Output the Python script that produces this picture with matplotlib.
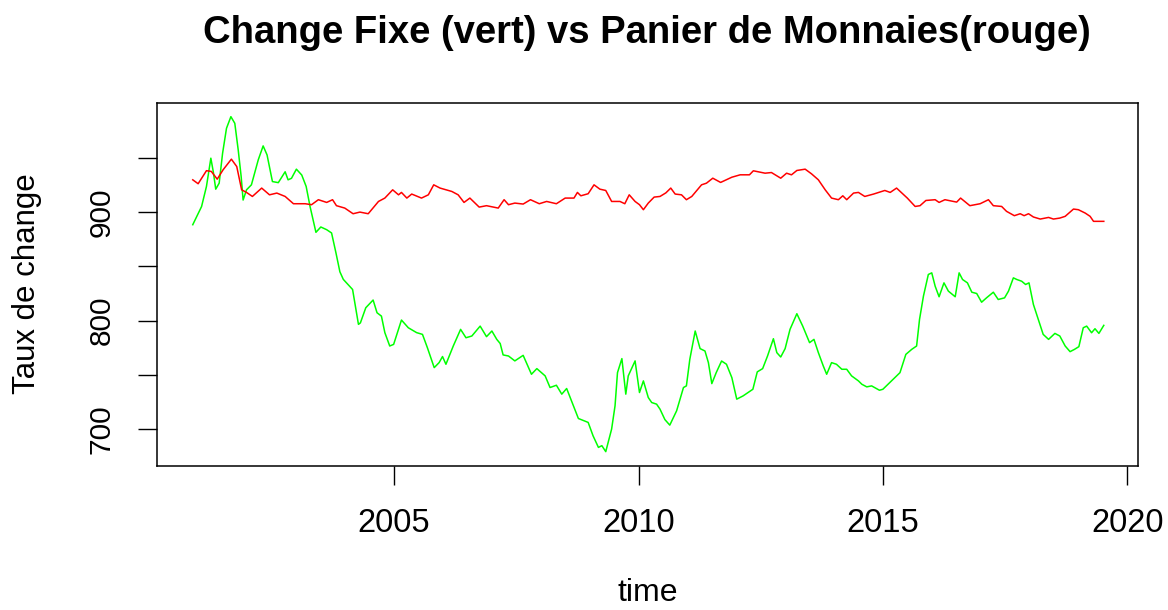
import matplotlib
matplotlib.use('Agg')
import matplotlib.pyplot as plt
from matplotlib import font_manager

# values (time in decimal years)
green_time = [2000.88, 2001.06, 2001.16, 2001.25, 2001.30, 2001.35, 2001.42, 2001.49, 2001.57, 2001.66,
              2001.74, 2001.81, 2001.87, 2001.91, 2001.98, 2002.08, 2002.22, 2002.32, 2002.40, 2002.51,
              2002.63, 2002.77, 2002.83, 2002.90, 2003.00, 2003.11, 2003.20, 2003.28, 2003.40, 2003.50,
              2003.62, 2003.72, 2003.81, 2003.89, 2003.96, 2004.15, 2004.27, 2004.31, 2004.42, 2004.57,
              2004.65, 2004.74, 2004.81, 2004.91, 2004.99, 2005.15, 2005.29, 2005.46, 2005.58, 2005.68,
              2005.82, 2005.92, 2005.99, 2006.06, 2006.21, 2006.36, 2006.47, 2006.59, 2006.76, 2006.89,
              2007.00, 2007.10, 2007.17, 2007.23, 2007.34, 2007.47, 2007.64, 2007.81, 2007.92, 2008.09,
              2008.19, 2008.32, 2008.43, 2008.53, 2008.63, 2008.77, 2008.97, 2009.07, 2009.18, 2009.25,
              2009.33, 2009.45, 2009.52, 2009.57, 2009.66, 2009.74, 2009.79, 2009.93, 2010.02, 2010.10,
              2010.20, 2010.27, 2010.37, 2010.44, 2010.54, 2010.64, 2010.78, 2010.92, 2010.98, 2011.05,
              2011.16, 2011.26, 2011.36, 2011.43, 2011.50, 2011.59, 2011.70, 2011.80, 2011.91, 2012.01,
              2012.14, 2012.34, 2012.43, 2012.54, 2012.64, 2012.76, 2012.83, 2012.91, 2013.00, 2013.10,
              2013.24, 2013.36, 2013.50, 2013.59, 2013.68, 2013.78, 2013.85, 2013.95, 2014.05, 2014.16,
              2014.26, 2014.36, 2014.50, 2014.57, 2014.67, 2014.77, 2014.93, 2015.00, 2015.35, 2015.47,
              2015.59, 2015.69, 2015.75, 2015.83, 2015.93, 2016.00, 2016.07, 2016.15, 2016.25, 2016.34,
              2016.48, 2016.56, 2016.63, 2016.73, 2016.82, 2016.92, 2017.02, 2017.12, 2017.26, 2017.36,
              2017.49, 2017.57, 2017.67, 2017.74, 2017.84, 2017.92, 2017.99, 2018.08, 2018.18, 2018.28,
              2018.39, 2018.52, 2018.62, 2018.73, 2018.83, 2018.92, 2019.01, 2019.10, 2019.17, 2019.27,
              2019.34, 2019.42, 2019.52]
green_value = [888.3, 905.0, 923.5, 949.5, 937.0, 921.0, 926.5, 954.0, 977.0, 987.7,
               981.6, 957.0, 932.7, 911.0, 920.4, 925.0, 948.0, 960.8, 952.5, 928.0,
               927.0, 937.0, 929.6, 931.0, 939.4, 934.0, 923.5, 905.0, 881.3, 886.2,
               883.7, 880.7, 862.3, 845.0, 838.0, 828.7, 796.6, 798.0, 811.9, 819.0,
               807.3, 804.2, 789.0, 776.7, 778.2, 800.6, 793.5, 789.0, 787.4, 775.2,
               756.8, 761.4, 767.0, 759.9, 776.7, 792.0, 784.3, 785.9, 795.0, 785.3,
               790.5, 782.8, 779.0, 768.5, 767.5, 763.0, 768.1, 750.7, 755.9, 749.2,
               738.5, 740.6, 732.4, 737.6, 726.2, 710.0, 706.4, 694.1, 683.4, 685.0,
               679.5, 700.3, 721.7, 752.2, 765.1, 732.4, 749.2, 763.0, 733.9, 744.6,
               729.3, 724.7, 723.2, 718.6, 709.0, 703.9, 717.1, 738.5, 740.0, 764.5,
               790.5, 774.3, 772.1, 761.4, 742.1, 752.2, 762.9, 759.9, 747.6, 727.8,
               730.8, 736.9, 752.9, 755.9, 767.5, 783.4, 770.6, 766.6, 774.3, 792.0,
               806.4, 795.0, 779.8, 782.8, 770.6, 758.4, 750.7, 761.4, 759.9, 755.3,
               755.3, 749.2, 744.6, 741.5, 739.1, 740.0, 736.0, 736.9, 752.2, 769.0,
               773.6, 776.7, 801.2, 822.6, 842.5, 844.0, 831.7, 822.0, 834.8, 827.2,
               822.0, 844.0, 837.9, 834.8, 826.2, 825.0, 817.0, 821.0, 826.2, 819.5,
               821.0, 827.2, 839.4, 837.9, 836.3, 833.3, 834.8, 814.9, 801.2, 787.4,
               782.8, 788.3, 785.9, 776.7, 771.5, 773.6, 776.1, 793.5, 795.0, 788.9,
               792.6, 788.3, 795.7]

red_time = [2000.88, 2000.99, 2001.16, 2001.26, 2001.38, 2001.50, 2001.67, 2001.78, 2001.88, 2001.98,
            2002.10, 2002.29, 2002.45, 2002.60, 2002.77, 2002.94, 2003.18, 2003.31, 2003.45, 2003.62,
            2003.74, 2003.82, 2003.99, 2004.16, 2004.30, 2004.47, 2004.68, 2004.81, 2004.97, 2005.09,
            2005.15, 2005.26, 2005.36, 2005.56, 2005.70, 2005.81, 2005.94, 2006.18, 2006.31, 2006.43,
            2006.55, 2006.74, 2006.89, 2007.13, 2007.25, 2007.34, 2007.47, 2007.64, 2007.79, 2007.97,
            2008.12, 2008.32, 2008.50, 2008.68, 2008.75, 2008.82, 2008.97, 2009.09, 2009.21, 2009.33,
            2009.45, 2009.62, 2009.72, 2009.81, 2009.93, 2010.02, 2010.10, 2010.20, 2010.32, 2010.44,
            2010.56, 2010.66, 2010.75, 2010.88, 2010.98, 2011.09, 2011.29, 2011.39, 2011.52, 2011.68,
            2011.91, 2012.08, 2012.27, 2012.35, 2012.59, 2012.72, 2012.91, 2013.03, 2013.13, 2013.24,
            2013.41, 2013.54, 2013.68, 2013.82, 2013.95, 2014.09, 2014.18, 2014.26, 2014.40, 2014.50,
            2014.63, 2014.81, 2015.04, 2015.15, 2015.28, 2015.50, 2015.66, 2015.76, 2015.88, 2016.07,
            2016.15, 2016.27, 2016.51, 2016.59, 2016.78, 2016.99, 2017.16, 2017.26, 2017.43, 2017.53,
            2017.69, 2017.81, 2017.89, 2017.98, 2018.08, 2018.22, 2018.39, 2018.49, 2018.62, 2018.73,
            2018.90, 2019.00, 2019.14, 2019.24, 2019.31, 2019.52]
red_value = [929.6, 926.0, 938.0, 937.3, 930.2, 938.8, 948.6, 941.8, 920.4, 918.0,
             914.3, 922.0, 915.8, 917.4, 914.3, 907.6, 907.6, 906.7, 911.3, 908.8,
             911.3, 905.8, 903.6, 898.4, 899.9, 898.4, 909.7, 912.8, 920.4, 915.8,
             918.0, 912.8, 916.5, 912.8, 915.8, 925.0, 922.0, 918.9, 915.8, 908.8,
             912.8, 904.5, 905.8, 903.6, 911.3, 906.7, 908.2, 907.3, 911.3, 907.6,
             909.7, 907.6, 912.8, 912.8, 918.0, 914.9, 916.8, 925.0, 921.0, 919.8,
             909.7, 909.7, 907.6, 915.8, 909.7, 906.7, 902.1, 908.2, 913.7, 914.3,
             917.6, 922.0, 916.5, 915.8, 911.3, 914.3, 925.0, 926.5, 931.1, 927.2,
             932.0, 934.2, 934.2, 937.9, 935.7, 936.3, 931.1, 935.7, 934.2, 938.2,
             939.4, 935.1, 929.6, 920.4, 912.8, 911.3, 914.9, 911.3, 917.4, 918.0,
             914.3, 916.5, 919.8, 918.0, 922.0, 912.8, 905.1, 905.8, 910.6, 911.3,
             908.8, 911.3, 909.1, 912.8, 905.8, 907.6, 911.3, 905.8, 905.1, 900.6,
             896.6, 898.4, 896.6, 898.4, 895.4, 893.5, 895.0, 893.5, 894.4, 896.0,
             902.7, 902.1, 899.0, 896.0, 891.4, 891.4]

x_ticks = [2005, 2010, 2015, 2020]
y_ticks = [700, 750, 800, 850, 900, 950]
y_labels = ['700', '', '800', '', '900', '']

# the reference text is tall and narrow: use the narrow face when it is there
installed = set(f.name for f in font_manager.fontManager.ttflist)
if 'Liberation Sans Narrow' in installed:
    font = 'Liberation Sans Narrow'
    k = 1.0 / 0.82
else:
    font = 'Liberation Sans' if 'Liberation Sans' in installed else 'DejaVu Sans'
    k = 1.0
plt.rcParams['font.family'] = font

fig = plt.figure(figsize=(11.68, 6.10), dpi=100)
left, right, bottom, top = 156.6 / 1168, 1138 / 1168, 1 - 466 / 610, 1 - 103.3 / 610
ax = fig.add_axes([left, bottom, right - left, top - bottom])

ax.plot(green_time, green_value, color='#00ff00', lw=1.1)
ax.plot(red_time, red_value, color='#ff0000', lw=1.1)

ax.set_xlim(2000.14, 2020.22)
ax.set_ylim(666.3, 1000.0)

ax.set_xticks(x_ticks)
ax.set_xticklabels([str(x) for x in x_ticks], fontsize=23.5 * k)
ax.set_yticks(y_ticks)
ax.set_yticklabels(y_labels, rotation=90, va='center', fontsize=21.5 * k)

ax.tick_params(direction='out', length=13.5, width=1.0, colors='black')
ax.tick_params(axis='x', pad=17)
ax.tick_params(axis='y', pad=16)
for s in ax.spines.values():
    s.set_linewidth(1.1)

cx = (left + right) / 2
fig.text(cx, 1 - 33 / 610, 'Change Fixe (vert) vs Panier de Monnaies(rouge)',
         ha='center', va='center', fontsize=27.5 * k, fontweight='bold')
fig.text(cx, 1 - 608 / 610, 'time', ha='center', va='bottom', fontsize=23 * k)
fig.text(27.5 / 1168, 1 - 284 / 610, 'Taux de change', ha='center', va='center',
         rotation=90, fontsize=22.5 * k)

fig.savefig('out.png', dpi=100)
